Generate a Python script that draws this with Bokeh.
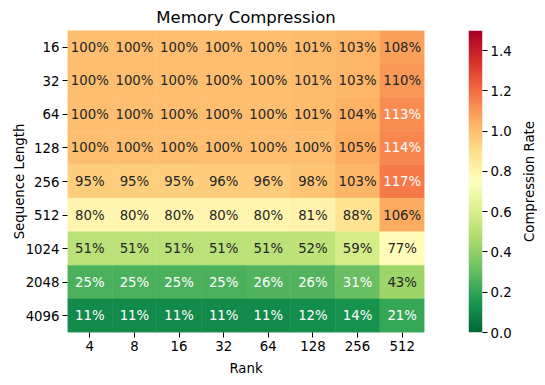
import numpy as np
from bokeh.plotting import figure
from bokeh.models import (ColumnDataSource, FactorRange, Range1d, FixedTicker,
                          PrintfTickFormatter, LinearColorMapper, Title)
from bokeh.layouts import row
from bokeh.embed import file_html
from bokeh.resources import INLINE
from bokeh.core.properties import value

# ---------------- data ----------------
ranks = ["4", "8", "16", "32", "64", "128", "256", "512"]
seq_lengths = ["16", "32", "64", "128", "256", "512", "1024", "2048", "4096"]

# compression rate in percent, one list per sequence length (columns = ranks)
rate_16 = [100, 100, 100, 100, 100, 101, 103, 108]
rate_32 = [100, 100, 100, 100, 100, 101, 103, 110]
rate_64 = [100, 100, 100, 100, 100, 101, 104, 113]
rate_128 = [100, 100, 100, 100, 100, 100, 105, 114]
rate_256 = [95, 95, 95, 96, 96, 98, 103, 117]
rate_512 = [80, 80, 80, 80, 80, 81, 88, 106]
rate_1024 = [51, 51, 51, 51, 51, 52, 59, 77]
rate_2048 = [25, 25, 25, 25, 26, 26, 31, 43]
rate_4096 = [11, 11, 11, 11, 11, 12, 14, 21]
rates = [rate_16, rate_32, rate_64, rate_128, rate_256, rate_512,
         rate_1024, rate_2048, rate_4096]

vmin, vmax = 0.0, 1.5
cbar_ticks = [0.0, 0.2, 0.4, 0.6, 0.8, 1.0, 1.2, 1.4]

# ---------------- colormap (RdYlGn_r) ----------------
RdYlGn = ["#a50026", "#d73027", "#f46d43", "#fdae61", "#fee08b", "#ffffbf",
          "#d9ef8b", "#a6d96a", "#66bd63", "#1a9850", "#006837"]
anchors = [tuple(int(h[i:i + 2], 16) / 255 for i in (1, 3, 5)) for h in RdYlGn[::-1]]


def cmap_rgb(v):
    x = (v - vmin) / (vmax - vmin)
    x = min(max(x, 0.0), 1.0)
    idx = min(int(x * 256), 255)
    t = idx / 255 * 10
    k = min(int(t), 9)
    f = t - k
    a, b = anchors[k], anchors[k + 1]
    return tuple(a[j] + (b[j] - a[j]) * f for j in range(3))


def to_hex(rgb):
    return "#%02x%02x%02x" % tuple(int(round(c * 255)) for c in rgb)


def lum(rgb):
    c = np.array(rgb)
    c = np.where(c <= 0.03928, c / 12.92, ((c + 0.055) / 1.055) ** 2.4)
    return 0.2126 * c[0] + 0.7152 * c[1] + 0.0722 * c[2]


xs, ys, labels, fills, tcols = [], [], [], [], []
for s, row_vals in zip(seq_lengths, rates):
    for r, v in zip(ranks, row_vals):
        rgb = cmap_rgb(v / 100)
        xs.append(r)
        ys.append(s)
        labels.append(f"{v}%")
        fills.append(to_hex(rgb))
        tcols.append("#262626" if lum(rgb) > 0.408 else "#ffffff")

src = ColumnDataSource(dict(rank=xs, seq=ys, label=labels, color=fills, tcolor=tcols))

FONT = "DejaVu Sans"
FS = "13.3px"
TOP, BOTTOM, FH = 30, 45, 302

# ---------------- main heatmap ----------------
p = figure(x_range=FactorRange(*ranks), y_range=FactorRange(*seq_lengths[::-1]),
           frame_width=357, frame_height=FH,
           min_border_left=67, min_border_right=21, min_border_top=TOP, min_border_bottom=BOTTOM,
           output_backend="svg", toolbar_location=None, title="Memory Compression")

p.rect(x="rank", y="seq", width=1, height=1, fill_color="color", line_color="color",
       line_width=0.5, source=src)
p.text(x="rank", y="seq", text="label", text_color="tcolor", text_align="center",
       text_baseline="middle", text_font=value(FONT), text_font_size=FS, source=src)

p.title.align = "center"
p.title.text_font = FONT
p.title.text_font_size = "16.5px"
p.title.text_font_style = "normal"
p.title.text_color = "#000000"
p.title.standoff = 8

p.xaxis.axis_label = "Rank"
p.yaxis.axis_label = "Sequence Length"
for ax in (p.xaxis, p.yaxis):
    ax.axis_line_color = None
    ax.major_tick_out = 5
    ax.major_tick_in = 0
    ax.major_tick_line_color = "#000000"
    ax.major_label_text_font = FONT
    ax.major_label_text_font_size = FS
    ax.major_label_text_color = "#000000"
    ax.axis_label_text_font = FONT
    ax.axis_label_text_font_size = FS
    ax.axis_label_text_font_style = "normal"
    ax.axis_label_text_color = "#000000"
    ax.major_label_standoff = 3
p.xaxis.axis_label_standoff = 7
p.yaxis.axis_label_standoff = -4
p.grid.grid_line_color = None
p.outline_line_color = None

# ---------------- colorbar ----------------
cb = figure(x_range=Range1d(0, 1), y_range=Range1d(vmin, vmax),
            frame_width=14, frame_height=FH,
            min_border_left=23, min_border_right=30, min_border_top=TOP, min_border_bottom=BOTTOM,
            y_axis_location="right", output_backend="svg", toolbar_location=None)
palette = [to_hex(cmap_rgb(vmin + (vmax - vmin) * (i + 0.5) / 256)) for i in range(256)]
mapper = LinearColorMapper(palette=palette, low=vmin, high=vmax)
grad = np.linspace(vmin, vmax, 256).reshape(256, 1)
cb.image(image=[grad], x=0, y=vmin, dw=1, dh=vmax - vmin, color_mapper=mapper)
cb.xaxis.visible = False
cb.grid.grid_line_color = None
cb.outline_line_color = None
cb.yaxis.ticker = FixedTicker(ticks=cbar_ticks)
cb.yaxis.formatter = PrintfTickFormatter(format="%.1f")
cb.yaxis.axis_line_color = None
cb.yaxis.minor_tick_line_color = None
cb.yaxis.major_tick_out = 5
cb.yaxis.major_tick_in = 0
cb.yaxis.major_label_standoff = 3
cb.yaxis.major_label_text_font = FONT
cb.yaxis.major_label_text_font_size = FS
cb.yaxis.major_label_text_color = "#000000"

# ---------------- colorbar label (vertical, reads bottom-to-top) ----------------
lab = figure(x_range=Range1d(0, 1), y_range=Range1d(0, 1),
             frame_width=1, frame_height=FH,
             min_border_left=22, min_border_right=0, min_border_top=TOP, min_border_bottom=BOTTOM,
             x_axis_location=None, y_axis_location=None,
             output_backend="svg", toolbar_location=None)
lab.grid.grid_line_color = None
lab.outline_line_color = None
lab.add_layout(Title(text="Compression Rate", align="center", text_font=FONT,
                     text_font_size=FS, text_font_style="normal", text_color="#000000",
                     standoff=0), "left")

layout = row(p, cb, lab)
open("out.html", "w").write(file_html(layout, INLINE))
